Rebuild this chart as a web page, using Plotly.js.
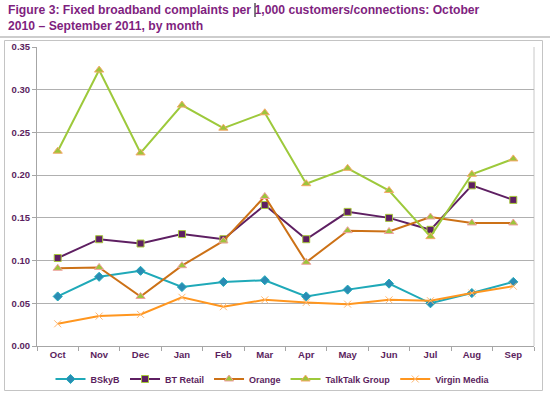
<!DOCTYPE html>
<html>
<head>
<meta charset="utf-8">
<script src="https://cdn.plot.ly/plotly-3.0.1.min.js"></script>
<style>html,body{margin:0;padding:0;background:#fff;}#chart{width:550px;height:397px;}</style>
</head>
<body>
<div id="chart"></div>
<script>
const months = ["Oct","Nov","Dec","Jan","Feb","Mar","Apr","May","Jun","Jul","Aug","Sep"];
const bskyb    = [0.058,0.081,0.088,0.069,0.075,0.077,0.058,0.066,0.073,0.050,0.062,0.075];
const btRetail = [0.103,0.125,0.120,0.131,0.125,0.165,0.125,0.157,0.150,0.136,0.188,0.171];
const orange   = [0.091,0.092,0.058,0.094,0.123,0.175,0.098,0.135,0.134,0.151,0.144,0.144];
const talktalk = [0.228,0.323,0.226,0.282,0.255,0.273,0.190,0.208,0.182,0.128,0.201,0.219];
const virgin   = [0.026,0.035,0.037,0.057,0.046,0.054,0.051,0.049,0.054,0.053,0.062,0.070];
const yTicks = [0,0.05,0.10,0.15,0.20,0.25,0.30,0.35];
const yTickText = ["0.00","0.05","0.10","0.15","0.20","0.25","0.30","0.35"];

const FONT = "Liberation Sans, Arial, sans-serif";
const traces = [
  {name:"BSkyB", y:bskyb, line:{color:"#1FA9B8",width:2},
   marker:{symbol:"diamond",size:7,color:"#2A8CB4",line:{color:"#1FA9B8",width:1}}},
  {name:"BT Retail", y:btRetail, line:{color:"#5E1F62",width:2},
   marker:{symbol:"square",size:7,color:"#5E1F62",line:{color:"#A8C83C",width:1}}},
  {name:"Orange", y:orange, line:{color:"#CC7116",width:2},
   marker:{symbol:"triangle-up",size:8,color:"#9DC53A",line:{color:"#F2A0A0",width:1}}},
  {name:"TalkTalk Group", y:talktalk, line:{color:"#9DC93B",width:2},
   marker:{symbol:"triangle-up",size:8,color:"#9DC53A",line:{color:"#F6A86A",width:1}}},
  {name:"Virgin Media", y:virgin, line:{color:"#FF961F",width:2},
   marker:{symbol:"x-thin-open",size:7,color:"#FFB870",line:{color:"#FFB870",width:1}}}
].map(t => Object.assign({type:"scatter",mode:"lines+markers",x:months}, t));

const L=37, R=16, T=47, B=51, W=550-L-R, H=397-T-B;
const px = x => (x-L)/W, py = y => (397-B-y)/H;

const layout = {
  width:550, height:397,
  paper_bgcolor:"#fff", plot_bgcolor:"#fff",
  margin:{l:L,r:R,t:T,b:B,autoexpand:false},
  font:{family:FONT,color:"#5B1E5E"},
  xaxis:{type:"category",showgrid:false,showline:true,linecolor:"#A6A6A6",linewidth:1,
         ticks:"outside",tickson:"boundaries",ticklen:4,tickcolor:"#A6A6A6",
         tickfont:{size:9.5,color:"#5B1E5E",family:FONT,weight:"bold"},
         range:[-0.5,11.5],automargin:false},
  yaxis:{range:[0,0.35],tickvals:yTicks,ticktext:yTickText,showgrid:true,gridcolor:"#B0B0B0",gridwidth:1,
         showline:true,linecolor:"#A6A6A6",linewidth:1,ticks:"outside",ticklen:4,tickcolor:"#A6A6A6",
         zeroline:false,automargin:false,
         tickfont:{size:9.5,color:"#5B1E5E",family:FONT,weight:"bold"}},
  showlegend:true,
  legend:{orientation:"h",x:px(273),xanchor:"center",y:py(379),yanchor:"middle",
          font:{size:9,color:"#5B1E5E",family:FONT,weight:"bold"},
          itemwidth:30,bgcolor:"rgba(0,0,0,0)"},
  annotations:[
    {xref:"paper",yref:"paper",x:px(6),y:py(1),xanchor:"left",yanchor:"top",align:"left",showarrow:false,
     text:"<b>Figure 3: Fixed broadband complaints per 1,000 customers/connections: October<br>2010 – September 2011, by month</b>",
     font:{size:12.2,color:"#7F1F7F",family:FONT}}
  ],
  shapes:[
    {type:"line",xref:"paper",yref:"paper",x0:px(0),x1:px(550),y0:py(37),y1:py(37),line:{color:"#BDBDBD",width:1.5}},
    {type:"rect",xref:"paper",yref:"paper",x0:px(4.5),x1:px(542.5),y0:py(40.5),y1:py(390.5),line:{color:"#C4C4C4",width:1},fillcolor:"rgba(0,0,0,0)",layer:"below"},
    {type:"line",xref:"paper",yref:"paper",x0:px(534),x1:px(534),y0:py(47),y1:py(346),line:{color:"#C8C8C8",width:1},layer:"below"},
    {type:"line",xref:"paper",yref:"paper",x0:px(255),x1:px(255),y0:py(3),y1:py(17),line:{color:"#000",width:1}}
  ]
};
Plotly.newPlot("chart", traces, layout, {displayModeBar:false, staticPlot:true});
</script>
</body>
</html>
